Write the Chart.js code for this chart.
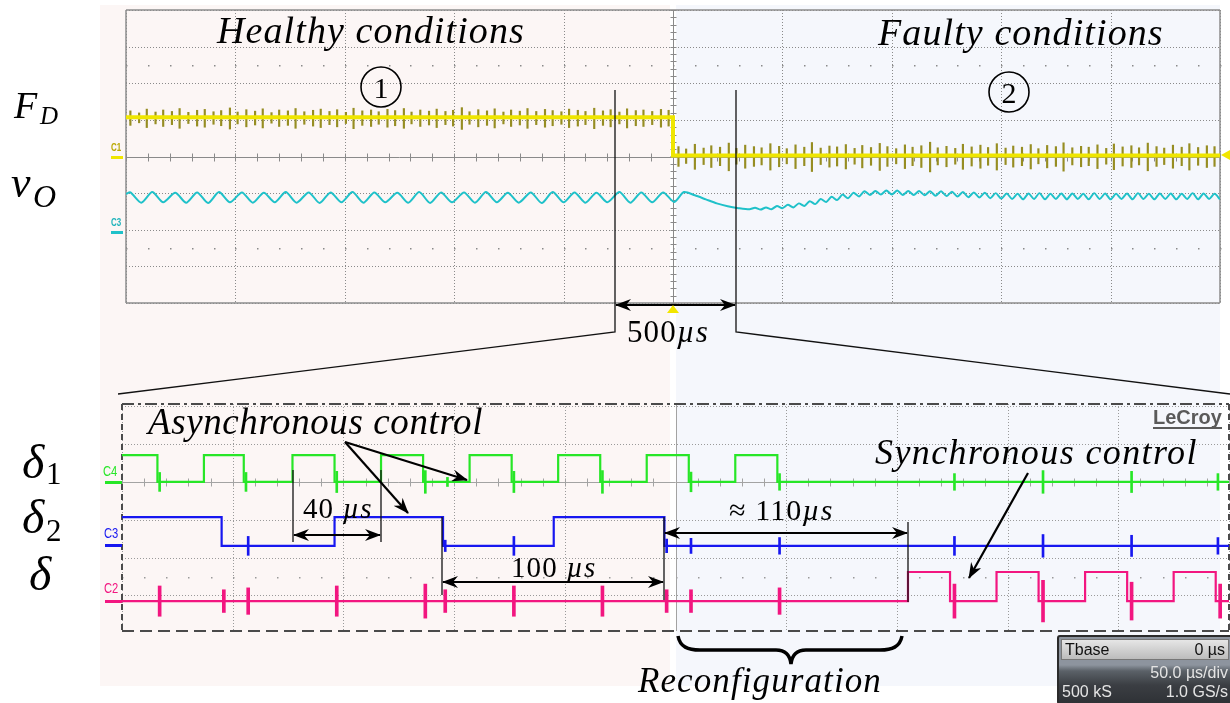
<!DOCTYPE html>
<html lang="en">
<head>
<meta charset="utf-8">
<title>Scope capture - fault detection and reconfiguration</title>
<script src="https://cdn.jsdelivr.net/npm/chart.js@4.4.1/dist/chart.umd.min.js"></script>
<style>
  body { margin: 0; background: #fff; }
  #page { position: relative; width: 1230px; height: 703px; overflow: hidden; }
  #page > * { position: absolute; }
  .m { font-family: 'Liberation Serif', serif; font-style: italic; line-height: 1; white-space: nowrap; color: #000; letter-spacing: 1.1px; }
  .m .up { font-style: normal; }
  .tag { font-family: 'Liberation Sans', sans-serif; font-size: 14px; line-height: 1; transform: scaleX(0.8); transform-origin: left top; }
  .bar { height: 3px; }
  #lecroy { left: 1153px; top: 407px; font: bold 20px 'Liberation Sans', sans-serif; line-height: 1; color: #5a5a5a; border-bottom: 2px solid #5a5a5a; }
  #tbase { left: 1057px; top: 635px; width: 176px; height: 70px; box-sizing: border-box; border: 2px solid #2b2b2b; border-radius: 3px;
           background: linear-gradient(#8d949e 0, #8d949e 28px, #5b6168 34px, #3b3e43 48px, #2f3236 100%);
           font: 16px 'Liberation Sans', sans-serif; line-height: 1; color: #e4e4e4; }
  #tbase .row { display: flex; justify-content: space-between; padding: 0 3px; height: 19px; align-items: center; }
  #tbase .hdr { margin: 2px 2px 3px; background: linear-gradient(#e6e6e6, #bcbcbc); color: #111; border: 1px solid #777; }
</style>
</head>
<body>
<div id="page">
  <div style="left:100px;top:5px;width:570px;height:681px;background:#fcf6f5"></div>
  <div style="left:676px;top:5px;width:544px;height:681px;background:#f5f7fc"></div>

  <canvas id="topScope" width="1114" height="313" style="left:116px;top:0"></canvas>
  <canvas id="botScope" width="1118" height="247" style="left:112px;top:394px"></canvas>

  <!-- channel markers -->
  <div class="tag" style="left:111px;top:143px;font-size:10px;font-weight:bold;color:#b9a800">C1</div>
  <div class="bar" style="left:111px;top:156px;width:12px;background:#efe600"></div>
  <div class="tag" style="left:111px;top:218px;font-size:10px;font-weight:bold;color:#1fb3bb">C3</div>
  <div class="bar" style="left:111px;top:231px;width:12px;background:#1fc1c9"></div>
  <div class="tag" style="left:103px;top:464px;color:#27e627">C4</div>
  <div class="bar" style="left:105px;top:481px;width:17px;background:#27e627"></div>
  <div class="tag" style="left:104px;top:526px;color:#1717f0">C3</div>
  <div class="bar" style="left:105px;top:544px;width:17px;background:#1717f0"></div>
  <div class="tag" style="left:104px;top:581px;color:#f21680">C2</div>
  <div class="bar" style="left:105px;top:600px;width:17px;background:#f21680"></div>

  <!-- arrows, zoom window, brace -->
  <svg width="1230" height="703" viewBox="0 0 1230 703" style="left:0;top:0">
    <defs>
      <marker id="head" viewBox="0 0 16 12" refX="15" refY="6" markerWidth="16" markerHeight="12" markerUnits="userSpaceOnUse" orient="auto-start-reverse">
        <path d="M0,0 L16,6 L0,12 L5,6 Z" fill="#000"/>
      </marker>
    </defs>
    <g fill="none" stroke="#111" stroke-width="1.3">
      <polyline points="615,90 615,332 118,394"/>
      <polyline points="736,90 736,332 1230,394"/>
      <line x1="293" y1="470" x2="293" y2="542"/>
      <line x1="381" y1="470" x2="381" y2="542"/>
      <line x1="442" y1="517" x2="442" y2="595"/>
      <line x1="664" y1="517" x2="664" y2="600"/>
      <line x1="908" y1="522" x2="908" y2="602"/>
    </g>
    <g fill="none" stroke="#000" stroke-width="2.2">
      <line x1="616" y1="305" x2="735" y2="305" marker-start="url(#head)" marker-end="url(#head)"/>
      <line x1="294" y1="535" x2="380" y2="535" marker-start="url(#head)" marker-end="url(#head)"/>
      <line x1="443" y1="582" x2="663" y2="582" marker-start="url(#head)" marker-end="url(#head)"/>
      <line x1="665" y1="533" x2="907" y2="533" marker-start="url(#head)" marker-end="url(#head)"/>
      <line x1="345" y1="442" x2="467" y2="480" marker-end="url(#head)"/>
      <line x1="345" y1="442" x2="408" y2="513" marker-end="url(#head)"/>
      <line x1="1028" y1="473" x2="969" y2="578" marker-end="url(#head)"/>
      <path d="M678,636 C680,647 688,650 700,650 L776,650 C785,650 790,655 791,664 C792,655 797,650 806,650 L880,650 C892,650 900,647 902,636" stroke-width="3.5"/>
      <circle cx="381" cy="87" r="20" stroke-width="1.6"/>
      <circle cx="1009" cy="92" r="20" stroke-width="1.6"/>
    </g>
    <g font-family="Liberation Serif" font-size="30" text-anchor="middle">
      <text x="381" y="98">1</text>
      <text x="1009" y="103">2</text>
    </g>
    <polygon points="673,305 667,313 679,313" fill="#f2e600"/>
    <polygon points="1221,155 1230,150 1230,160" fill="#f2e600"/>
  </svg>

  <!-- labels -->
  <div class="m" style="left:217px;top:11px;font-size:38px">Healthy conditions</div>
  <div class="m" style="left:878px;top:13px;font-size:38px">Faulty conditions</div>
  <div class="m" style="left:148px;top:403px;font-size:37px;letter-spacing:0.6px">Asynchronous control</div>
  <div class="m" style="left:875px;top:434px;font-size:36px;letter-spacing:1.4px">Synchronous control</div>
  <div class="m" style="left:638px;top:663px;font-size:35px">Reconfiguration</div>
  <div class="m" style="left:303px;top:494px;font-size:29px"><span class="up">40</span> µs</div>
  <div class="m" style="left:511px;top:553px;font-size:29px"><span class="up">100</span> µs</div>
  <div class="m" style="left:729px;top:495px;font-size:30px"><span class="up">≈ 110</span>µs</div>
  <div class="m" style="left:627px;top:316px;font-size:31px"><span class="up">500</span>µs</div>

  <div class="m" style="left:14px;top:86px;font-size:38px">F</div>
  <div class="m" style="left:40px;top:103px;font-size:25px">D</div>
  <div class="m" style="left:11px;top:161px;font-size:44px">v</div>
  <div class="m" style="left:33px;top:180px;font-size:32px">O</div>
  <div class="m" style="left:22px;top:438px;font-size:48px">δ</div>
  <div class="m" style="left:46px;top:458px;font-size:31px"><span class="up">1</span></div>
  <div class="m" style="left:22px;top:493px;font-size:48px">δ</div>
  <div class="m" style="left:46px;top:515px;font-size:31px"><span class="up">2</span></div>
  <div class="m" style="left:29px;top:550px;font-size:48px">δ</div>

  <div id="lecroy">LeCroy</div>
  <div id="tbase">
    <div class="row hdr"><span>Tbase</span><span>0 µs</span></div>
    <div class="row"><span></span><span>50.0 µs/div</span></div>
    <div class="row"><span>500 kS</span><span>1.0 GS/s</span></div>
  </div>
</div>

<script>
// ---- Top screen: FD and vO, x and y in divisions, fault at x = 0 ----
const fdLevels = [1.07, 0.03];   // healthy, faulty

const fdSpikeT = [
  -4.96, -4.88, -4.81, -4.73, -4.66, -4.58, -4.51, -4.43, -4.35, -4.28,
  -4.20, -4.13, -4.05, -3.98, -3.90, -3.82, -3.75, -3.67, -3.60, -3.52,
  -3.45, -3.37, -3.29, -3.22, -3.14, -3.07, -2.99, -2.92, -2.84, -2.76,
  -2.69, -2.61, -2.54, -2.46, -2.39, -2.31, -2.23, -2.16, -2.08, -2.01,
  -1.93, -1.86, -1.78, -1.70, -1.63, -1.55, -1.48, -1.40, -1.33, -1.25,
  -1.17, -1.10, -1.02, -0.95, -0.87, -0.80, -0.72, -0.64, -0.57, -0.49,
  -0.42, -0.34, -0.27, -0.19, -0.11, -0.04,
  0.05, 0.12, 0.20, 0.28, 0.35, 0.43, 0.51, 0.58, 0.66, 0.74,
  0.81, 0.89, 0.97, 1.04, 1.12, 1.20, 1.27, 1.35, 1.43, 1.50,
  1.58, 1.66, 1.73, 1.81, 1.89, 1.96, 2.04, 2.12, 2.19, 2.27,
  2.35, 2.42, 2.50, 2.58, 2.65, 2.73, 2.81, 2.88, 2.96, 3.04,
  3.11, 3.19, 3.27, 3.34, 3.42, 3.50, 3.57, 3.65, 3.73, 3.80,
  3.88, 3.96, 4.03, 4.11, 4.19, 4.26, 4.34, 4.42, 4.49, 4.57,
  4.65, 4.72, 4.80, 4.88, 4.95
];
const fdSpikeA = [
  0.22, 0.15, 0.28, 0.18, 0.25, 0.20, 0.30, 0.17, 0.24, 0.27,
  0.19, 0.23, 0.32, 0.18, 0.26, 0.21, 0.29, 0.16, 0.25, 0.22,
  0.30, 0.19, 0.24, 0.28, 0.20, 0.26, 0.17, 0.31, 0.22, 0.25,
  0.19, 0.27, 0.23, 0.30, 0.18, 0.25, 0.21, 0.28, 0.20, 0.24,
  0.33, 0.19, 0.26, 0.22, 0.29, 0.18, 0.25, 0.21, 0.30, 0.20,
  0.27, 0.23, 0.19, 0.28, 0.24, 0.20, 0.31, 0.22, 0.26, 0.18,
  0.29, 0.23, 0.25, 0.20, 0.27, 0.24,
  0.30, 0.22, 0.38, 0.25, 0.33, 0.28, 0.42, 0.24, 0.35, 0.30,
  0.26, 0.40, 0.31, 0.23, 0.36, 0.28, 0.44, 0.25, 0.32, 0.29,
  0.37, 0.24, 0.34, 0.27, 0.41, 0.30, 0.23, 0.36, 0.28, 0.33,
  0.45, 0.26, 0.31, 0.24, 0.38, 0.29, 0.35, 0.27, 0.40, 0.25,
  0.32, 0.28, 0.37, 0.23, 0.34, 0.30, 0.43, 0.26, 0.31, 0.28,
  0.36, 0.24, 0.39, 0.29, 0.33, 0.26, 0.42, 0.30, 0.25, 0.35,
  0.28, 0.40, 0.27, 0.33, 0.30
];

const voT = [
  -5.00, -4.96, -4.86, -4.76, -4.66, -4.55, -4.45, -4.35, -4.25, -4.15,
  -4.05, -3.94, -3.84, -3.74, -3.64, -3.54, -3.44, -3.33, -3.23, -3.13,
  -3.03, -2.93, -2.83, -2.73, -2.63, -2.52, -2.42, -2.32, -2.22, -2.12,
  -2.02, -1.91, -1.81, -1.71, -1.61, -1.51, -1.41, -1.30, -1.20, -1.10,
  -1.00, -0.90, -0.80, -0.70, -0.60, -0.49, -0.39, -0.29, -0.19, -0.09,
  0.01, 0.10, 0.20, 0.30, 0.40, 0.50, 0.60, 0.70,
  0.75, 0.80, 0.85, 0.90, 0.95, 1.00, 1.05, 1.10, 1.15, 1.20,
  1.25, 1.30, 1.35, 1.40, 1.45, 1.50, 1.55, 1.60, 1.65, 1.70,
  1.75, 1.80, 1.85, 1.90, 1.95, 2.00, 2.05, 2.10, 2.15, 2.20,
  2.25, 2.30, 2.35, 2.40, 2.45, 2.50, 2.55, 2.60, 2.65, 2.70,
  2.75, 2.80, 2.85, 2.90, 2.95, 3.00,
  3.05, 3.10, 3.15, 3.20, 3.25, 3.30, 3.35, 3.40, 3.45, 3.50,
  3.55, 3.60, 3.65, 3.70, 3.75, 3.80, 3.85, 3.90, 3.95, 4.00,
  4.05, 4.10, 4.15, 4.20, 4.25, 4.30, 4.35, 4.40, 4.45, 4.50,
  4.55, 4.60, 4.65, 4.70, 4.75, 4.80, 4.85, 4.90, 4.95, 5.00
];
const voV = [
  -1.02, -0.98, -1.26, -0.97, -1.25, -0.99, -1.26, -0.98, -1.27, -0.97,
  -1.25, -0.98, -1.26, -0.99, -1.25, -0.97, -1.26, -0.98, -1.27, -0.98,
  -1.25, -0.97, -1.26, -0.98, -1.25, -0.99, -1.26, -0.97, -1.27, -0.98,
  -1.25, -0.98, -1.26, -0.97, -1.25, -0.99, -1.26, -0.98, -1.27, -0.97,
  -1.25, -0.98, -1.26, -0.99, -1.25, -0.97, -1.26, -0.98, -1.25, -0.98,
  -1.24, -0.97, -1.06, -1.17, -1.28, -1.36, -1.41, -1.44,
  -1.40, -1.45, -1.39, -1.44, -1.35, -1.41, -1.32, -1.39, -1.28, -1.35,
  -1.22, -1.30, -1.16, -1.24, -1.10, -1.19, -1.04, -1.14, -0.99, -1.09,
  -0.95, -1.05, -0.94, -1.04, -0.93, -1.04, -0.93, -1.05, -0.94, -1.05,
  -0.94, -1.06, -0.95, -1.07, -0.95, -1.08, -0.96, -1.09, -0.97, -1.11,
  -0.98, -1.12, -0.99, -1.14, -1.00, -1.15,
  -1.01, -1.16, -1.02, -1.17, -1.01, -1.16, -1.00, -1.17, -1.02, -1.16,
  -1.01, -1.17, -1.01, -1.16, -1.02, -1.17, -1.00, -1.16, -1.01, -1.17,
  -1.02, -1.16, -1.01, -1.17, -1.00, -1.16, -1.02, -1.17, -1.01, -1.16,
  -1.01, -1.17, -1.02, -1.16, -1.00, -1.17, -1.01, -1.16, -1.02, -1.17
];

// ---- Bottom screen: gate signals, time in µs (50 µs/div), level in divisions ----
const d1Edges = [-234, -213, -195, -173, -154, -133, -114, -93, -74, -53, -34, -13, 6, 27, 46];
const d1Levels = [0.71, 0.0];      // level at the left edge first
const d2Edges = [-205, -154, -105, -55, -5];
const d2Levels = [-0.93, -1.69];
const dEdges = [105, 124, 145, 164, 185, 204, 225, 244];
const dLevels = [-3.15, -2.38];

// switching noise bursts: [time, half height]
const d1Bursts = [[-233, 0.25], [-194, 0.25], [-153, 0.28], [-113, 0.3], [-103, 0.12], [-73, 0.28],
                  [-33, 0.3], [7, 0.26], [47, 0.22], [126, 0.22], [166, 0.3], [206, 0.28], [245, 0.22]];
const d2Bursts = [[-193, 0.25], [-104, 0.15], [-73, 0.25], [-4, 0.18], [7, 0.2], [47, 0.22],
                  [126, 0.25], [166, 0.3], [206, 0.28], [245, 0.22]];
const dBursts = [[-233, 0.4], [-204, 0.3], [-193, 0.35], [-153, 0.4], [-113, 0.45], [-104, 0.3],
                 [-73, 0.4], [-33, 0.4], [-4, 0.3], [7, 0.3], [47, 0.35], [126, 0.45], [166, 0.55],
                 [206, 0.5], [246, 0.45]];

// ---- helpers ----
function squareWave(edges, levels, from, to) {
  const pts = [{x: from, y: levels[0]}];
  edges.forEach((t, i) => pts.push({x: t, y: levels[(i + 1) % 2]}));
  pts.push({x: to, y: levels[edges.length % 2]});
  return pts;
}
function levelAt(edges, levels, t) {
  return levels[edges.filter(e => e <= t).length % 2];
}
function burstBars(list, edges, levels) {
  return list.map(([t, a]) => {
    const b = levelAt(edges, levels, t);
    return {x: t, y: [b - a, b + a]};
  });
}

// scope graticule drawn from the chart's own scales
function graticule(o) {
  return {
    id: 'graticule',
    beforeDatasetsDraw(chart) {
      const {ctx, chartArea: a, scales: {x, y}} = chart;
      const X = v => Math.round(x.getPixelForValue(v)) + 0.5;
      const Y = v => Math.round(y.getPixelForValue(v)) + 0.5;
      const seg = (x1, y1, x2, y2) => { ctx.beginPath(); ctx.moveTo(x1, y1); ctx.lineTo(x2, y2); ctx.stroke(); };
      const steps = (lo, hi, s) => { const r = []; for (let v = Math.ceil(lo / s - 1e-6) * s; v <= hi + 1e-6; v += s) r.push(v); return r; };
      ctx.save();
      ctx.lineWidth = 1;
      ctx.strokeStyle = o.dot;
      ctx.setLineDash([1, 2]);
      steps(x.min, x.max, o.xDiv).forEach(v => { if (Math.abs(v) > 1e-6) seg(X(v), a.top, X(v), a.bottom); });
      steps(y.min, y.max, 1).forEach(v => { if (Math.abs(v) > 1e-6) seg(a.left, Y(v), a.right, Y(v)); });
      ctx.setLineDash([]);
      ctx.fillStyle = o.dot;
      o.dotRows.forEach(r => steps(x.min, x.max, o.xDiv / 5).forEach(v => ctx.fillRect(X(v) - 0.5, Y(r) - 0.5, 1.5, 1.5)));
      // centre cross with small ticks
      ctx.strokeStyle = o.axis;
      seg(a.left, Y(0), a.right, Y(0));
      steps(x.min, x.max, o.xDiv / 5).forEach(v => seg(X(v), Y(0) - 4, X(v), Y(0) + 4));
      seg(X(0), a.top, X(0), a.bottom);
      if (o.vTicks) steps(y.min, y.max, 0.2).forEach(v => seg(X(0) - 3, Y(v), X(0) + 3, Y(v)));
      // frame
      ctx.strokeStyle = o.frame;
      ctx.lineWidth = o.frameWidth;
      ctx.setLineDash(o.dashTop || []); seg(a.left, a.top, a.right, a.top);
      ctx.setLineDash(o.dashBottom || []); seg(a.left, a.bottom, a.right, a.bottom);
      ctx.setLineDash(o.dashSide || []); seg(a.left, a.top, a.left, a.bottom); seg(a.right, a.top, a.right, a.bottom);
      ctx.restore();
    }
  };
}

function scopeOptions(xr, yr, pad) {
  return {
    responsive: false,
    animation: false,
    events: [],
    layout: {padding: pad},
    elements: {point: {radius: 0}},
    plugins: {legend: {display: false}, tooltip: {enabled: false}},
    scales: {
      x: {type: 'linear', min: xr[0], max: xr[1], display: false, offset: false},
      y: {type: 'linear', min: yr[0], max: yr[1], display: false, beginAtZero: false}
    }
  };
}

// ---- Top chart ----
const fdLine = [{x: -5, y: fdLevels[0]}, {x: 0, y: fdLevels[1]}, {x: 5, y: fdLevels[1]}];
const fdSpikes = fdSpikeT.map((t, i) => {
  const b = t < 0 ? fdLevels[0] : fdLevels[1];
  return {x: t, y: [b - fdSpikeA[i], b + 0.8 * fdSpikeA[i]]};
});
const voLine = voT.map((t, i) => ({x: t, y: voV[i]}));

new Chart(document.getElementById('topScope'), {
  type: 'line',
  data: {
    datasets: [
      {data: fdLine, stepped: true, borderColor: '#efe600', borderWidth: 4, order: 0},
      {type: 'bar', data: fdSpikes, backgroundColor: '#968d22', barThickness: 1.5, grouped: false, order: 1},
      {data: voLine, borderColor: '#1fc1c9', borderWidth: 2, tension: 0.25, order: 2}
    ]
  },
  options: scopeOptions([-5, 5], [-4, 4], {left: 10, right: 10, top: 10, bottom: 10}),
  plugins: [graticule({xDiv: 1, dot: '#8a8a8a', axis: '#8a8a8a', frame: '#8c8c8c', frameWidth: 1.5,
                       dotRows: [2.5, -2.5], vTicks: true})]
});

// ---- Bottom chart ----
new Chart(document.getElementById('botScope'), {
  type: 'line',
  data: {
    datasets: [
      {data: squareWave(d1Edges, d1Levels, -250, 250), stepped: true, borderColor: '#27e627', borderWidth: 2.2},
      {data: squareWave(d2Edges, d2Levels, -250, 250), stepped: true, borderColor: '#1717f0', borderWidth: 2.2},
      {data: squareWave(dEdges, dLevels, -250, 250), stepped: true, borderColor: '#f21680', borderWidth: 2.2},
      {type: 'bar', data: burstBars(d1Bursts, d1Edges, d1Levels), backgroundColor: '#27e627', barThickness: 2, grouped: false},
      {type: 'bar', data: burstBars(d2Bursts, d2Edges, d2Levels), backgroundColor: '#1717f0', barThickness: 2, grouped: false},
      {type: 'bar', data: burstBars(dBursts, dEdges, dLevels), backgroundColor: '#f21680', barThickness: 3, grouped: false}
    ]
  },
  options: scopeOptions([-250, 250], [-3.94, 2.06], {left: 10, right: 1, top: 10, bottom: 10}),
  plugins: [graticule({xDiv: 50, dot: '#9a9a9a', axis: '#a3a3a3', frame: '#4a4a4a', frameWidth: 2,
                       dotRows: [-2.5], vTicks: false,
                       dashTop: [12, 4, 3, 4], dashBottom: [12, 6], dashSide: [6, 4]})]
});
</script>
</body>
</html>
